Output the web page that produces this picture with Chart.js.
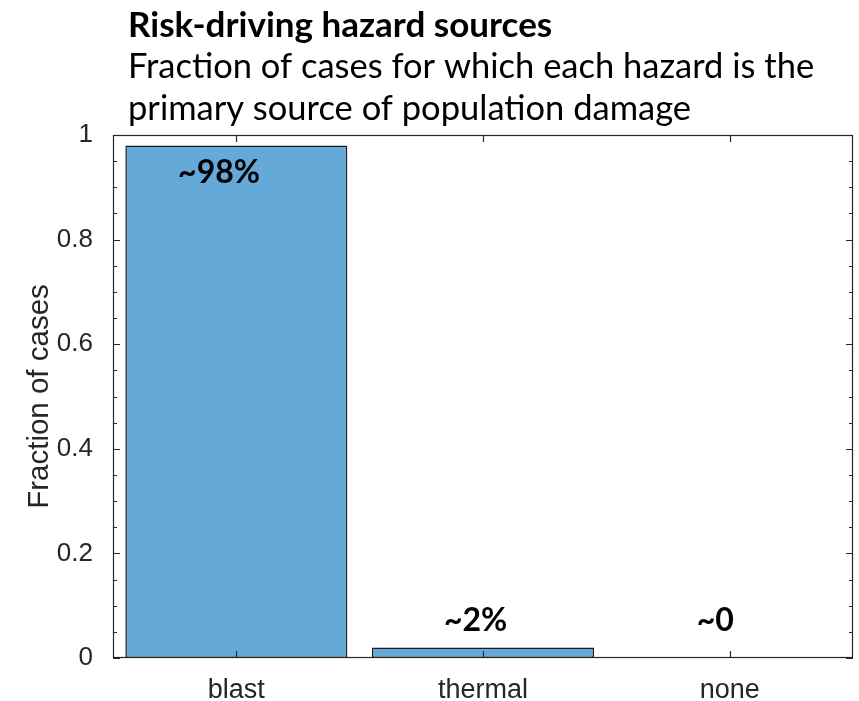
<!DOCTYPE html>
<html>
<head>
<meta charset="utf-8">
<script src="https://cdn.jsdelivr.net/npm/chart.js@4"></script>
<style>
    html, body { margin: 0; padding: 0; background: #fff; }
</style>
</head>
<body>
<canvas id="chart" width="859" height="701"></canvas>
<script>
// Chart values
var categories = ['blast', 'thermal', 'none'];
var fractions = [0.98, 0.02, 0];
var barLabels = ['~98%', '~2%', '~0'];
var labelYValues = [0.927, 0.071, 0.071];
var labelXOffsets = [-0.07, -0.03, -0.058];
var yTicks = [0, 0.2, 0.4, 0.6, 0.8, 1];
var titleLines = ['Risk-driving hazard sources',
                  'Fraction of cases for which each hazard is the',
                  'primary source of population damage'];

var axisColor = '#262626';
var tickFont = { family: '"Liberation Sans", Arial, sans-serif', size: 26 };

// MATLAB like box, inward ticks and the text labels
var boxPlugin = {
    id: 'matlabBox',
    afterDatasetsDraw: function(chart) {
        var ctx = chart.ctx;
        var a = chart.chartArea;
        var xs = chart.scales.x;
        var ys = chart.scales.y;
        ctx.save();
        ctx.strokeStyle = axisColor;
        ctx.lineWidth = 1.2;
        ctx.strokeRect(a.left + 0.5, a.top + 0.5, a.right - a.left - 1, a.bottom - a.top - 1);

        ctx.beginPath();
        for (var i = 0; i <= 20; i++) {
            var py = Math.round(ys.getPixelForValue(i / 20)) + 0.5;
            var len = (i % 4 === 0) ? 7 : 4;
            ctx.moveTo(a.left, py); ctx.lineTo(a.left + len, py);
            ctx.moveTo(a.right, py); ctx.lineTo(a.right - len, py);
        }
        for (var j = 0; j < categories.length; j++) {
            var px = Math.round(xs.getPixelForValue(j)) + 0.5;
            ctx.moveTo(px, a.bottom); ctx.lineTo(px, a.bottom - 7);
            ctx.moveTo(px, a.top); ctx.lineTo(px, a.top + 7);
        }
        ctx.stroke();

        // bar annotations
        ctx.fillStyle = '#000';
        ctx.font = 'bold 32px Lato, "Open Sans", sans-serif';
        ctx.textAlign = 'center';
        ctx.textBaseline = 'middle';
        for (var k = 0; k < barLabels.length; k++) {
            ctx.fillText(barLabels[k],
                xs.getPixelForValue(k + labelXOffsets[k]),
                ys.getPixelForValue(labelYValues[k]));
        }

        // heading
        ctx.textAlign = 'left';
        ctx.textBaseline = 'alphabetic';
        ctx.font = 'bold 35px Lato, "Open Sans", sans-serif';
        ctx.fillText(titleLines[0], 128, 37);
        ctx.font = '34.5px Lato, "Open Sans", sans-serif';
        ctx.fillText(titleLines[1], 128, 78);
        ctx.fillText(titleLines[2], 128, 120);
        ctx.restore();
    }
};

var ctx = document.getElementById('chart').getContext('2d');
var chart = new Chart(ctx, {
    type: 'bar',
    data: {
        labels: categories,
        datasets: [{
            data: fractions,
            backgroundColor: '#65a9d8',
            borderColor: '#1a1a1a',
            borderWidth: 1.5,
            borderSkipped: false,
            barPercentage: 0.9,
            categoryPercentage: 1
        }]
    },
    options: {
        responsive: false,
        animation: false,
        layout: { padding: { top: 135, right: 6, left: 0, bottom: 0 } },
        plugins: {
            legend: { display: false },
            tooltip: { enabled: false }
        },
        scales: {
            x: {
                grid: { display: false },
                border: { display: false },
                ticks: { color: axisColor, font: { family: tickFont.family, size: 27 }, padding: 8 },
                afterFit: function(scale) { scale.height = 43; }
            },
            y: {
                min: 0,
                max: 1,
                grid: { display: false },
                border: { display: false },
                afterBuildTicks: function(scale) {
                    scale.ticks = yTicks.map(function(v) { return { value: v }; });
                },
                ticks: {
                    color: axisColor,
                    font: tickFont,
                    padding: 12,
                    callback: function(v) { return String(v); }
                },
                title: {
                    display: true,
                    text: 'Fraction of cases',
                    color: axisColor,
                    font: { family: '"Liberation Sans", Arial, sans-serif', size: 29.5 },
                    padding: { top: 22, bottom: 0 }
                },
                afterFit: function(scale) { scale.width = 113; }
            }
        }
    },
    plugins: [boxPlugin]
});
</script>
</body>
</html>
